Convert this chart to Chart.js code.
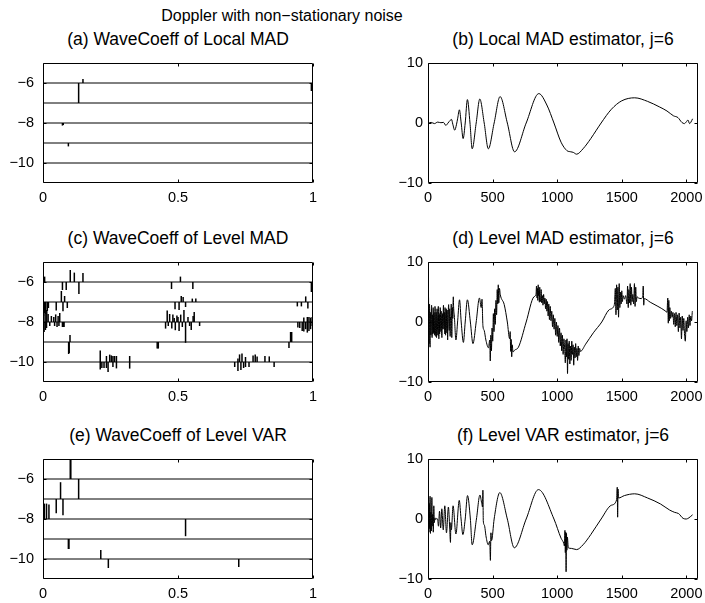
<!DOCTYPE html>
<html>
<head>
<meta charset="utf-8">
<script src="https://cdn.jsdelivr.net/npm/chart.js@4.4.0/dist/chart.umd.min.js"></script>
<style>
  body { margin: 0; background: #fff; }
  #fig { position: relative; width: 705px; height: 603px; overflow: hidden;
         font-family: 'Liberation Sans', Arial, Helvetica, sans-serif; color: #000; }
  #fig canvas { position: absolute; }
  .ttl { position: absolute; width: 400px; text-align: center; line-height: 1.2; white-space: nowrap; }
</style>
</head>
<body>
<div id="fig"></div>
<script>
// ---- data ----
const supTitle = 'Doppler with non\u2212stationary noise';
const panelTitles = ['(a) WaveCoeff of Local MAD', '(b) Local MAD estimator, j=6',
                     '(c) WaveCoeff of Level MAD', '(d) Level MAD estimator, j=6',
                     '(e) WaveCoeff of Level VAR', '(f) Level VAR estimator, j=6'];

// wavelet levels drawn as baselines at -j
const levels = [6, 7, 8, 9, 10];
const coefXTicks = [0, 0.5, 1];
const coefYTicks = [-10, -8, -6];
const sigXTicks = [0, 500, 1000, 1500, 2000];
const sigYTicks = [-10, 0, 10];

// sticks: [position, level j, coefficient]
const aSticks = [[0.132, 6, -1.0], [0.148, 6, 0.2], [0.994, 6, -0.4],
                 [0.072, 8, -0.13], [0.075, 8, -0.1], [0.094, 9, -0.17]];

const cSticks = [
  [0.006, 6, 0.27], [0.101, 6, 0.6], [0.116, 6, 0.47], [0.148, 6, 0.45], [0.072, 6, -0.4], [0.086, 6, -0.4],
  [0.133, 6, -0.6], [0.476, 6, -0.35], [0.509, 6, 0.27], [0.555, 6, -0.35], [0.994, 6, -0.5],
  [0.068, 7, 0.55], [0.080, 7, 0.3], [0.512, 7, 0.3], [0.519, 7, 0.25], [0.553, 7, 0.17], [0.566, 7, 0.17],
  [0.973, 7, 0.28], [0.002, 7, -0.7], [0.006, 7, -0.55], [0.010, 7, -0.6], [0.016, 7, -0.45], [0.020, 7, -0.3],
  [0.049, 7, -0.43], [0.074, 7, -0.46], [0.090, 7, -0.3], [0.489, 7, -0.36], [0.504, 7, -0.4], [0.528, 7, -0.25],
  [0.942, 7, -0.22], [0.957, 7, -0.22], [0.981, 7, -0.33],
  [0.002, 8, 0.95], [0.008, 8, 0.8], [0.014, 8, 0.6], [0.019, 8, 0.4], [0.001, 8, -0.6], [0.004, 8, -0.5],
  [0.009, 8, -0.4], [0.013, 8, -0.3], [0.031, 8, 0.3], [0.040, 8, 0.25], [0.047, 8, 0.38], [0.056, 8, 0.3],
  [0.062, 8, 0.45], [0.025, 8, -0.2], [0.043, 8, -0.2], [0.052, 8, -0.25], [0.059, 8, -0.2], [0.072, 8, -0.25],
  [0.075, 8, -0.25], [0.078, 8, -0.25],
  [0.454, 8, -0.33], [0.460, 8, 0.58], [0.464, 8, -0.2], [0.469, 8, 0.4], [0.477, 8, -0.33], [0.481, 8, 0.37],
  [0.486, 8, 0.2], [0.490, 8, -0.41], [0.496, 8, 0.33], [0.500, 8, 0.25], [0.504, 8, -0.45], [0.510, 8, 0.37],
  [0.516, 8, -0.25], [0.522, 8, 0.6], [0.528, 8, -1.04], [0.537, 8, 0.25], [0.543, 8, -0.2], [0.549, 8, -0.4],
  [0.556, 8, 0.3], [0.560, 8, 0.5], [0.580, 8, -0.2],
  [0.944, 8, -0.28], [0.951, 8, -0.3], [0.960, 8, -0.45], [0.966, 8, -0.48], [0.966, 8, 0.22], [0.973, 8, -0.36],
  [0.979, 8, -0.53], [0.979, 8, 0.25], [0.985, 8, -0.45], [0.985, 8, 0.25], [0.991, 8, -0.36], [0.991, 8, 0.22],
  [0.997, 8, 0.25], [0.997, 8, -0.2],
  [0.095, 9, -0.6], [0.097, 9, -0.55], [0.100, 9, 0.35], [0.423, 9, -0.33], [0.427, 9, -0.33],
  [0.911, 9, -0.3], [0.917, 9, 0.5], [0.921, 9, 0.5],
  [0.212, 10, 0.58], [0.212, 10, -0.38], [0.218, 10, -0.3], [0.226, 10, -0.3], [0.235, 10, 0.3], [0.235, 10, -0.3],
  [0.241, 10, -0.5], [0.247, 10, 0.37], [0.253, 10, 0.33], [0.259, 10, 0.3], [0.259, 10, -0.25], [0.265, 10, 0.3],
  [0.272, 10, 0.3], [0.272, 10, -0.32], [0.321, 10, 0.3], [0.321, 10, -0.33],
  [0.710, 10, -0.25], [0.722, 10, 0.17], [0.722, 10, -0.45], [0.728, 10, 0.38], [0.733, 10, -0.4], [0.737, 10, 0.42],
  [0.743, 10, -0.3], [0.750, 10, 0.25], [0.750, 10, -0.25], [0.763, 10, -0.25], [0.778, 10, 0.33], [0.786, 10, 0.37],
  [0.793, 10, 0.28], [0.822, 10, 0.3], [0.838, 10, 0.28], [0.856, 10, -0.25]
];

const eSticks = [[0.101, 6, 0.95], [0.103, 6, 0.95], [0.132, 6, -1.0], [0.065, 7, 0.84], [0.049, 7, -0.71],
                 [0.074, 7, -0.81], [0.005, 8, 0.77], [0.013, 8, 0.77], [0.022, 8, 0.72], [0.528, 8, -0.86],
                 [0.094, 9, -0.5], [0.096, 9, -0.5], [0.214, 10, 0.45], [0.242, 10, -0.45], [0.725, 10, -0.4]];

// (b) local MAD estimate
const bX = [0, 25, 50, 75, 100, 120, 138, 155, 172, 182, 192, 207, 220, 230, 243, 257, 272, 288, 305, 325,
            342, 373, 401, 435, 467, 512, 558, 614, 670, 760, 858, 920, 975, 1030, 1075, 1105, 1125, 1150, 1200, 1260,
            1300, 1340, 1420, 1500, 1600, 1700, 1790, 1850, 1900, 1935, 1965, 1985, 2000, 2012, 2025, 2034, 2048];
const bY = [0.0, 0.1, -0.1, 0.15, 0.05, 0.1, -0.4, 0.0, 0.45, 0.6, -0.2, -1.2, -0.3, 0.8, 2.2, 0.0, -2.6, 0.0, 3.9, 0.0,
            -4.3, 0.0, 4.0, 0.0, -4.3, 0.0, 4.4, 0.0, -4.8, 0.0, 4.9, 3.0, 0.0, -3.2, -4.6, -4.8, -4.9, -5.2, -4.3, -2.6,
            -1.3, 0.0, 2.3, 3.7, 4.2, 3.6, 2.7, 2.0, 1.2, 0.9, 0.1, -0.1, 0.2, 0.5, -0.1, 0.1, 0.7];

// (d) level MAD estimate
const dX = [0, 2, 4, 6, 8, 10, 12, 14, 16, 18, 20, 22, 24, 26, 28, 30, 32, 34, 36, 38,
            40, 42, 44, 46, 48, 50, 52, 54, 56, 58, 60, 62, 64, 66, 68, 70, 72, 74, 76, 78,
            80, 82, 84, 86, 88, 90, 92, 94, 96, 98, 100, 102, 104, 106, 108, 110, 112, 114, 116, 118,
            120, 122, 124, 126, 128, 130, 132, 134, 136, 138, 140, 142, 144, 146, 148, 150, 152, 154, 156, 158,
            160, 162, 164, 166, 168, 170, 172, 174, 176, 178, 180, 182, 184, 186, 188, 190, 192, 194, 196, 198,
            204, 216, 230, 244, 257, 274, 288, 305, 328, 348, 373, 398, 412, 418, 425, 435, 448, 468, 478, 482,
            486, 491, 496, 501, 506, 511, 516, 521, 526, 531, 536, 540, 544, 548, 553, 560,
            590, 614, 632, 636, 640, 644, 648, 652, 658, 670, 700, 760, 820, 836,
            840, 844, 847, 850, 853, 856, 859, 862, 865, 868, 872, 876, 880, 885, 890, 895, 900, 905, 910, 915,
            920, 925, 930, 935, 940, 946, 952, 958, 964, 970, 976, 982, 988, 994, 1000, 1006, 1012, 1018, 1024, 1030,
            1035, 1040, 1046, 1052, 1058, 1063, 1068, 1072, 1076, 1080, 1084, 1088, 1093, 1098, 1103, 1108, 1113, 1118, 1123, 1128,
            1133, 1138, 1143, 1148, 1153, 1158, 1163, 1168, 1174, 1180,
            1220, 1280, 1345, 1400, 1438,
            1444, 1450, 1455, 1460, 1465, 1470, 1475, 1480, 1485, 1490, 1495, 1500, 1505, 1510, 1520, 1530, 1540, 1545, 1550, 1555,
            1560, 1565, 1570, 1575, 1580, 1585, 1592, 1598, 1603, 1608, 1613, 1618, 1630, 1650, 1662, 1666, 1670, 1674,
            1720, 1780, 1840,
            1850, 1856, 1860, 1864, 1868, 1872, 1878, 1884, 1890, 1896, 1902, 1908, 1914, 1920, 1926, 1932, 1938, 1944, 1950, 1956,
            1962, 1968, 1974, 1980, 1986, 1992, 1998, 2004, 2010, 2016, 2022, 2028, 2034, 2040, 2046];
const dY = [1.2, -2.0, 4.2, -1.0, -3.6, 2.2, 3.0, -2.8, -4.2, 1.0, 1.6, -2.2, -1.2, 2.0, 2.8, -1.8, -2.6, 1.2, 0.4, -2.0,
            2.4, 0.8, -1.8, 1.6, 1.0, -2.2, -0.6, 2.6, 2.0, -1.4, -2.4, 0.6, 1.6, -2.6, -1.0, 2.2, 0.8, -1.2, -2.2, 1.8,
            2.6, -0.8, -2.8, 1.4, 1.2, -2.0, -0.4, 2.4, 2.2, -1.0, -1.6, 1.8, 0.6, -2.4, -2.6, 0.4, 1.4, -1.2, -0.8, 2.0,
            2.8, -0.6, -1.2, 1.6, 0.2, -2.0, 2.4, 1.0, -2.2, -1.4, 1.6, 2.2, -0.6, -1.8, 2.0, 0.4, -3.0, -1.2, 0.8, 2.4,
            2.9, -0.2, -1.4, 1.2, 2.2, -1.6, -2.4, 0.8, 0.4, 1.8, 3.0, 0.2, -2.6, -1.0, 1.8, 2.4, 0.6, 3.2, 4.2, 2.6,
            1.0, -3.0, 0.3, 3.7, 0.0, -3.4, 0.0, 3.7, 0.0, -3.6, 0.0, 4.0, 2.4, 3.8, -0.6, -1.4, -3.0, -4.3, -3.0, -6.5,
            -2.2, -4.8, -1.0, -3.2, 1.4, -1.6, 2.2, -0.4, 3.6, 1.2, 5.4, 3.0, 6.2, 3.2, 5.6, 4.5,
            2.9, 0.0, -2.8, -1.6, -4.9, -2.9, -5.8, -3.8, -5.0, -4.7, -4.2, 0.0, 4.2, 4.6,
            6.0, 4.0, 5.6, 3.6, 6.2, 4.4, 5.2, 3.3, 5.8, 4.0, 3.4, 5.4, 3.2, 4.4, 2.8, 4.6, 3.0, 4.0, 2.2, 3.8,
            1.8, 3.4, 1.0, 3.0, 0.4, 2.6, 0.2, 1.8, -0.8, 1.2, -1.2, 0.6, -2.2, 0.0, -2.4, -0.6, -3.4, -1.0, -4.0, -1.8,
            -4.8, -2.2, -5.4, -2.8, -4.6, -6.8, -3.0, -5.8, -2.8, -8.6, -3.6, -6.2, -3.2, -7.0, -4.0, -6.4, -3.2, -5.4, -3.8, -7.2,
            -4.2, -6.0, -3.6, -5.8, -4.4, -6.4, -4.0, -5.6, -4.4, -4.9,
            -3.7, -1.8, 0.0, 2.0, 2.6,
            3.2, 5.6, 1.2, 6.2, 2.0, 5.8, 0.8, 6.4, 2.4, 5.0, 3.0, 5.2, 3.4, 4.4, 3.8, 4.4, 3.0, 6.0, 2.4, 5.4,
            3.2, 6.4, 2.8, 5.8, 3.4, 4.6, 3.0, 6.4, 2.6, 5.8, 3.4, 4.2, 4.0, 3.9, 4.3, 6.0, 2.8, 3.9,
            3.3, 2.6, 1.8,
            1.6, 4.0, -0.2, 3.6, 0.2, 2.4, 0.6, 1.8, 0.8, 1.6, -0.4, 1.4, -0.8, 1.6, -0.6, 1.2, -1.6, 1.5, -1.0, 0.8,
            -2.8, 1.0, -1.4, 0.6, -2.2, -3.2, 0.2, -1.6, 0.8, -1.0, 1.2, -0.6, 1.0, 0.2, 1.8];

// (f) level VAR estimate
const fX = [0, 4, 7, 10, 13, 16, 19, 22, 26, 30, 33, 37, 41, 45, 49, 54, 60, 68, 75, 81,
            89, 98, 107, 118, 130, 143, 158, 168, 174, 177, 181, 194, 216, 242, 256, 270, 288, 306, 328, 342,
            375, 402, 416, 422, 425, 428, 436, 450, 466, 478, 483, 487, 492, 512, 556, 614, 668, 760, 855, 975,
            1030, 1050, 1056, 1060, 1063, 1066, 1069, 1072, 1075, 1079, 1086, 1110, 1150, 1200, 1260, 1340, 1420, 1460, 1465, 1468,
            1471, 1475, 1520, 1600, 1700, 1800, 1870, 1910, 1940, 1975, 2000, 2020, 2048];
const fY = [0.5, 3.7, -2.2, 2.6, -1.6, 3.8, -2.4, 1.2, -2.0, 3.6, -1.2, 0.8, -2.2, 2.2, -0.6, 0.2, -0.1, 0.1, -0.2, -1.2,
            1.3, -1.5, 1.7, -1.8, 2.2, -2.3, 2.0, -1.5, -3.9, -0.6, -1.8, 2.2, -2.5, 3.1, 0.0, -2.6, 0.0, 3.9, 0.0, -4.3,
            0.0, 4.0, 2.6, 2.0, 4.8, -0.3, -1.0, -3.0, -4.3, -3.7, -6.9, -2.3, -3.6, 0.0, 4.4, 0.0, -4.8, 0.0, 4.9, 0.0,
            -3.2, -4.0, -4.5, -1.9, -5.6, -2.2, -8.8, -2.4, -5.2, -3.0, -4.8, -4.9, -5.1, -4.3, -2.6, 0.0, 2.3, 3.2, 5.3, 0.3,
            5.0, 3.5, 3.9, 4.2, 3.5, 2.5, 1.5, 1.1, 0.9, 0.1, 0.0, 0.2, 0.7];

// ---- drawing ----
const FONT = "'Liberation Sans', Arial, Helvetica, sans-serif";
Chart.defaults.font.family = FONT;
Chart.defaults.color = '#000';

const fig = document.getElementById('fig');
const rowTops = [63, 262, 459];
const TICK_FONT = 14.5;

function minusFmt(v) {
  return v < 0 ? '\u2212' + Math.abs(v) : String(v);
}

// black box with inward tick marks on all four sides, like the original
const framePlugin = {
  id: 'frame',
  afterDraw(chart) {
    const {ctx, chartArea: a} = chart;
    const sx = chart.scales.x, sy = chart.scales.y;
    const L = Math.round(a.left) + 0.5, R = Math.round(a.right) - 0.5;
    const T = Math.round(a.top) + 0.5, B = Math.round(a.bottom) - 0.5;
    ctx.save();
    ctx.strokeStyle = '#000';
    ctx.lineWidth = 1;
    ctx.beginPath();
    ctx.rect(L, T, R - L, B - T);
    sx.ticks.forEach(t => {
      const p = Math.round(sx.getPixelForValue(t.value)) + 0.5;
      ctx.moveTo(p, B); ctx.lineTo(p, B - 3);
      ctx.moveTo(p, T); ctx.lineTo(p, T + 3);
    });
    sy.ticks.forEach(t => {
      const p = Math.round(sy.getPixelForValue(t.value)) + 0.5;
      ctx.moveTo(L, p); ctx.lineTo(L + 3, p);
      ctx.moveTo(R, p); ctx.lineTo(R - 3, p);
    });
    ctx.stroke();
    ctx.restore();
  }
};

function addCanvas(left, top, w, h) {
  const c = document.createElement('canvas');
  c.width = w; c.height = h;
  c.style.left = left + 'px';
  c.style.top = top + 'px';
  fig.appendChild(c);
  return c;
}

function addTitle(text, cx, cy, size) {
  const d = document.createElement('div');
  d.className = 'ttl';
  d.textContent = text;
  d.style.fontSize = size + 'px';
  d.style.left = (cx - 200) + 'px';
  d.style.top = Math.round(cy - 0.69 * size) + 'px';
  fig.appendChild(d);
}

function makeOptions(xr, xTicks, yr, yTicks, yWidth, yPad, padRight) {
  return {
    responsive: false,
    animation: false,
    events: [],
    layout: {padding: {top: 8, right: padRight, bottom: 0, left: 0}},
    plugins: {legend: {display: false}, tooltip: {enabled: false}},
    scales: {
      x: {
        type: 'linear', min: xr[0], max: xr[1], offset: false,
        grid: {display: false, drawTicks: false}, border: {display: false},
        ticks: {font: {size: TICK_FONT}, padding: 6, maxRotation: 0, autoSkip: false, callback: minusFmt},
        afterBuildTicks: s => { s.ticks = xTicks.map(v => ({value: v})); },
        afterFit: s => { s.height = 24; s.paddingLeft = 0; s.paddingRight = 0; }
      },
      y: {
        type: 'linear', min: yr[0], max: yr[1],
        grid: {display: false, drawTicks: false}, border: {display: false},
        ticks: {font: {size: TICK_FONT}, padding: yPad, autoSkip: false, callback: minusFmt},
        afterBuildTicks: s => { s.ticks = yTicks.map(v => ({value: v})); },
        afterFit: s => { s.width = yWidth; s.paddingTop = 0; s.paddingBottom = 0; }
      }
    }
  };
}

function stickPanel(row, sticks) {
  const top = rowTops[row] - 8;
  const canvas = addCanvas(0, top, 340, 152);
  const datasets = levels.map(j => ({
    type: 'line',
    data: [{x: 0, y: -j}, {x: 1, y: -j}],
    borderColor: '#000', borderWidth: 1, pointRadius: 0
  }));
  datasets.push({
    type: 'bar',
    data: sticks.map(s => ({x: s[0], y: [-s[1], -s[1] + s[2]]})),
    backgroundColor: '#000', borderWidth: 0, barThickness: 1.5, inflateAmount: 0, grouped: false
  });
  new Chart(canvas, {
    type: 'bar',
    data: {datasets},
    options: makeOptions([0, 1], coefXTicks, [-11, -5], coefYTicks, 43, 9, 27),
    plugins: [framePlugin]
  });
}

function signalPanel(row, xs, ys) {
  const top = rowTops[row] - 8;
  const canvas = addCanvas(360, top, 345, 152);
  new Chart(canvas, {
    type: 'line',
    data: {datasets: [{
      data: xs.map((x, i) => ({x: x, y: ys[i]})),
      borderColor: '#000', borderWidth: 1, pointRadius: 0,
      cubicInterpolationMode: 'monotone', borderJoinStyle: 'round'
    }]},
    options: makeOptions([0, 2090], sigXTicks, [-10, 10], sigYTicks, 68, 5, 7),
    plugins: [framePlugin]
  });
}

stickPanel(0, aSticks);
signalPanel(0, bX, bY);
stickPanel(1, cSticks);
signalPanel(1, dX, dY);
stickPanel(2, eSticks);
signalPanel(2, fX, fY);

addTitle(supTitle, 282, 17.5, 16);
const titleRowsY = [41.5, 240, 437];
panelTitles.forEach((t, i) => {
  const cx = i % 2 === 0 ? 178 : 563;
  addTitle(t, cx, titleRowsY[Math.floor(i / 2)], 17.5);
});
</script>
</body>
</html>
